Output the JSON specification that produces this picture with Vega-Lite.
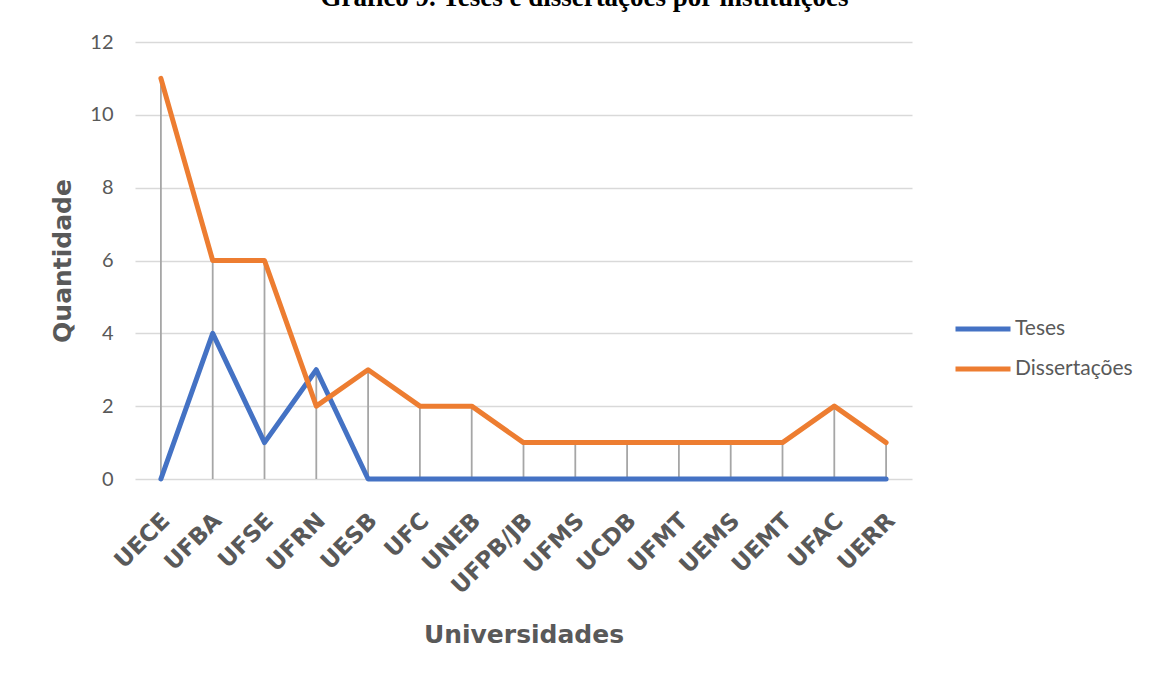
{
  "$schema": "https://vega.github.io/schema/vega-lite/v6.json",
  "autosize": {"type": "none"},
  "width": 777,
  "height": 437,
  "padding": {"left": 135, "top": 42, "right": 237, "bottom": 198},
  "background": "white",
  "title": {
    "text": "Gráfico 9. Teses e dissertações por instituições",
    "font": "Liberation Serif",
    "fontSize": 27,
    "fontWeight": "bold",
    "color": "#000000",
    "anchor": "middle",
    "frame": "group",
    "dx": 61,
    "baseline": "alphabetic",
    "offset": -1
  },
  "data": {
    "values": [
      {"inst": "UECE", "serie": "Teses", "valor": 0},
      {"inst": "UFBA", "serie": "Teses", "valor": 4},
      {"inst": "UFSE", "serie": "Teses", "valor": 1},
      {"inst": "UFRN", "serie": "Teses", "valor": 3},
      {"inst": "UESB", "serie": "Teses", "valor": 0},
      {"inst": "UFC", "serie": "Teses", "valor": 0},
      {"inst": "UNEB", "serie": "Teses", "valor": 0},
      {"inst": "UFPB/JB", "serie": "Teses", "valor": 0},
      {"inst": "UFMS", "serie": "Teses", "valor": 0},
      {"inst": "UCDB", "serie": "Teses", "valor": 0},
      {"inst": "UFMT", "serie": "Teses", "valor": 0},
      {"inst": "UEMS", "serie": "Teses", "valor": 0},
      {"inst": "UEMT", "serie": "Teses", "valor": 0},
      {"inst": "UFAC", "serie": "Teses", "valor": 0},
      {"inst": "UERR", "serie": "Teses", "valor": 0},
      {"inst": "UECE", "serie": "Dissertações", "valor": 11},
      {"inst": "UFBA", "serie": "Dissertações", "valor": 6},
      {"inst": "UFSE", "serie": "Dissertações", "valor": 6},
      {"inst": "UFRN", "serie": "Dissertações", "valor": 2},
      {"inst": "UESB", "serie": "Dissertações", "valor": 3},
      {"inst": "UFC", "serie": "Dissertações", "valor": 2},
      {"inst": "UNEB", "serie": "Dissertações", "valor": 2},
      {"inst": "UFPB/JB", "serie": "Dissertações", "valor": 1},
      {"inst": "UFMS", "serie": "Dissertações", "valor": 1},
      {"inst": "UCDB", "serie": "Dissertações", "valor": 1},
      {"inst": "UFMT", "serie": "Dissertações", "valor": 1},
      {"inst": "UEMS", "serie": "Dissertações", "valor": 1},
      {"inst": "UEMT", "serie": "Dissertações", "valor": 1},
      {"inst": "UFAC", "serie": "Dissertações", "valor": 2},
      {"inst": "UERR", "serie": "Dissertações", "valor": 1}
    ]
  },
  "encoding": {
    "x": {
      "field": "inst",
      "type": "nominal",
      "sort": null,
      "scale": {
        "type": "point",
        "padding": 0.5,
        "domain": ["UECE", "UFBA", "UFSE", "UFRN", "UESB", "UFC", "UNEB", "UFPB/JB", "UFMS", "UCDB", "UFMT", "UEMS", "UEMT", "UFAC", "UERR"]
      },
      "axis": {
        "title": "Universidades",
        "titleFont": "DejaVu Sans",
        "titleFontSize": 25,
        "titleFontWeight": "bold",
        "titleColor": "#595959",
        "titlePadding": 24,
        "labelFont": "DejaVu Sans",
        "labelFontSize": 23,
        "labelFontWeight": "bold",
        "labelColor": "#595959",
        "labelAngle": -45,
        "labelAlign": "right",
        "labelBaseline": "top",
        "labelPadding": 30,
        "labelOffset": -3,
        "labelOverlap": false,
        "labelBound": false,
        "domain": false,
        "ticks": false,
        "grid": false
      }
    }
  },
  "layer": [
    {
      "mark": {"type": "rule", "color": "#A6A6A6", "strokeWidth": 1.8},
      "encoding": {
        "y": {"aggregate": "max", "field": "valor", "type": "quantitative"},
        "y2": {"datum": 0}
      }
    },
    {
      "mark": {"type": "line", "strokeWidth": 5, "strokeCap": "round", "strokeJoin": "round"},
      "encoding": {
        "y": {
          "field": "valor",
          "type": "quantitative",
          "scale": {"domain": [0, 12], "nice": false, "zero": true},
          "axis": {
            "title": "Quantidade",
            "titleFont": "DejaVu Sans",
            "titleFontSize": 25,
            "titleFontWeight": "bold",
            "titleColor": "#595959",
            "titlePadding": 14,
            "values": [0, 2, 4, 6, 8, 10, 12],
            "labelFont": "Lato",
            "labelFontSize": 20,
            "labelColor": "#595959",
            "labelPadding": 22,
            "domain": false,
            "ticks": false,
            "grid": true,
            "gridColor": "#D9D9D9",
            "gridWidth": 1.5
          }
        },
        "color": {
          "field": "serie",
          "type": "nominal",
          "sort": null,
          "scale": {"domain": ["Teses", "Dissertações"], "range": ["#4472C4", "#ED7D31"]},
          "legend": {
            "title": null,
            "orient": "none",
            "legendX": 818,
            "legendY": 257,
            "padding": 0,
            "symbolType": "stroke",
            "symbolSize": 3025,
            "symbolStrokeWidth": 5,
            "rowPadding": -10,
            "labelOffset": 2,
            "labelFont": "Lato",
            "labelFontSize": 21,
            "labelColor": "#595959"
          }
        }
      }
    }
  ],
  "config": {"view": {"stroke": null}}
}
